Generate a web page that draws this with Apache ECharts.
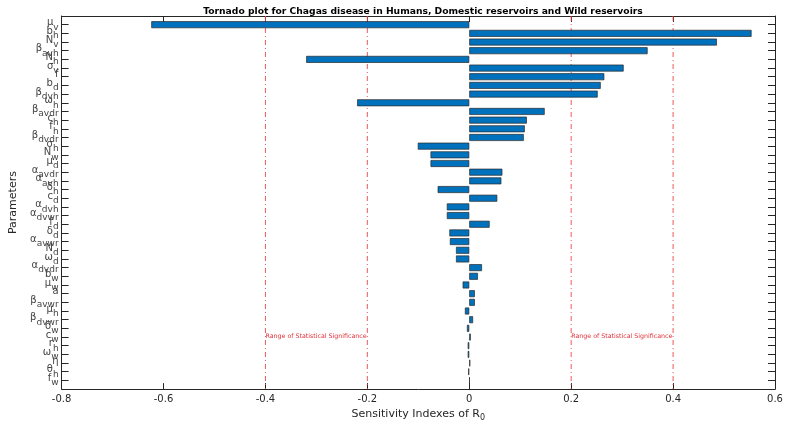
<!DOCTYPE html>
<html>
<head>
<meta charset="utf-8">
<script src="https://cdn.jsdelivr.net/npm/echarts@6/dist/echarts.min.js"></script>
<style>
  html, body { margin: 0; padding: 0; background: #fff; }
  #main { width: 809px; height: 427px; }
</style>
</head>
<body>
<div id="main"></div>
<script>
// parameters, top to bottom ("_" marks the subscript)
var params = ['μ_v', 'b_h', 'N_v', 'β_avh', 'N_h', 'σ_v', 'f', 'b_d', 'β_dvh', 'ω_h',
  'β_avdr', 'c_h', 'f_h', 'β_dvdr', 'σ_h', 'N_w', 'μ_d', 'α_avdr', 'α_avh', 'δ_h',
  'c_d', 'α_dvh', 'α_dvwr', 'f_d', 'δ_d', 'α_avwr', 'N_d', 'ω_d', 'α_dvdr', 'b_w',
  'μ_w', 'a', 'β_avwr', 'μ_h', 'β_dvwr', 'δ_w', 'c_w', 'r_h', 'ω_w', 'η', 'θ_h', 'f_w'];

// sensitivity index of R0 for each parameter
var indexes = [-0.624, 0.554, 0.486, 0.350, -0.320, 0.303, 0.265, 0.258, 0.252, -0.220,
  0.148, 0.113, 0.109, 0.107, -0.101, -0.076, -0.076, 0.065, 0.063, -0.062,
  0.055, -0.044, -0.044, 0.040, -0.039, -0.038, -0.026, -0.026, 0.025, 0.017,
  -0.013, 0.011, 0.011, -0.0085, 0.0075, -0.0045, 0.003, -0.003, -0.003, 0.002, -0.002, 0.001];

var xTicks = [-0.8, -0.6, -0.4, -0.2, 0, 0.2, 0.4, 0.6];
var signifLines = [-0.4, -0.2, 0.2, 0.4];
var signifText = 'Range of Statistical Significance';

// one empty slot above and below so the bars sit one step inside the box
var cats = [''].concat(params, ['']);
var vals = ['-'].concat(indexes, ['-']);
var last = cats.length - 1;

var axisCol = '#262626';
var fontFam = 'DejaVu Sans';

var chart = echarts.init(document.getElementById('main'));

var labelFmt = function(v) {
  if (!v) return '';
  var p = v.split('_');
  if (p.length > 1) return '{m|' + p[0] + '}{s|' + p[1] + '}';
  return '{m|' + p[0] + '}';
};

var boxLine = { show: true, onZero: false, lineStyle: { color: axisCol, width: 1 } };

var series = [{
  type: 'bar',
  xAxisIndex: 0, yAxisIndex: 0,
  data: vals,
  barWidth: '80%',
  z: 3,
  itemStyle: { color: '#0072BD', borderColor: '#2a2a2a', borderWidth: 0.7 },
  markPoint: {
    silent: true, symbol: 'circle', symbolSize: 0,
    label: {
      show: true, position: 'right', distance: 0, offset: [0, -1],
      formatter: signifText,
      fontFamily: fontFam, fontSize: 6.3, color: '#e0303a'
    },
    data: [{ coord: [signifLines[0], 37] }, { coord: [signifLines[2], 37] }]
  }
}];

// red dash-dot significance lines, full height of the box
signifLines.forEach(function(x) {
  series.push({
    type: 'line', xAxisIndex: 0, yAxisIndex: 0,
    data: [[x, 0], [x, last]],
    symbol: 'none', silent: true, z: 2,
    lineStyle: { color: '#e8484c', width: 0.9, type: [5, 3, 1, 3] }
  });
});

var option = {
  animation: false,
  title: {
    text: 'Tornado plot for Chagas disease in Humans, Domestic reservoirs and Wild reservoirs',
    left: 418, top: 2, textAlign: 'center',
    textStyle: { fontFamily: fontFam, fontSize: 9.2, fontWeight: 'bold', color: '#000' }
  },
  grid: { left: 61, right: 34, top: 16, bottom: 35 },
  xAxis: [{
    type: 'value', min: xTicks[0], max: xTicks[xTicks.length - 1], interval: 0.2,
    splitLine: { show: false },
    axisLine: boxLine,
    axisTick: { show: true, inside: true, length: 6, lineStyle: { color: axisCol } },
    axisLabel: { fontFamily: fontFam, fontSize: 10, color: axisCol, margin: 5,
      formatter: function(v) { return String(Math.round(v * 10) / 10); } },
    name: 'Sensitivity Indexes of R{s|0}',
    nameLocation: 'middle', nameGap: 17,
    nameTextStyle: { fontFamily: fontFam, fontSize: 11, color: axisCol,
      rich: { s: { fontFamily: fontFam, fontSize: 8, color: axisCol, padding: [7, 0, 0, 0] } } }
  }, {
    type: 'value', position: 'top', min: xTicks[0], max: xTicks[xTicks.length - 1], interval: 0.2,
    splitLine: { show: false },
    axisLine: boxLine,
    axisTick: { show: true, inside: true, length: 6, lineStyle: { color: axisCol } },
    axisLabel: { show: false }
  }],
  yAxis: [{
    type: 'category', data: cats, inverse: true, boundaryGap: false,
    axisLine: boxLine,
    axisTick: { show: true, inside: true, length: 7, lineStyle: { color: axisCol },
      interval: function(i) { return i > 0 && i < last; } },
    axisLabel: {
      interval: 0, margin: 3, formatter: labelFmt,
      rich: {
        m: { fontFamily: fontFam, fontSize: 10, color: '#444', padding: [0, 0, 4, 0] },
        s: { fontFamily: fontFam, fontSize: 9, color: '#444', padding: [5, 0, 0, 0] }
      }
    },
    name: 'Parameters', nameLocation: 'middle', nameGap: 29,
    nameTextStyle: { fontFamily: fontFam, fontSize: 11, color: axisCol }
  }, {
    type: 'category', data: cats, inverse: true, boundaryGap: false, position: 'right',
    axisLine: boxLine,
    axisTick: { show: true, inside: true, length: 7, lineStyle: { color: axisCol },
      interval: function(i) { return i > 0 && i < last; } },
    axisLabel: { show: false }
  }],
  series: series
};

chart.setOption(option);
</script>
</body>
</html>
